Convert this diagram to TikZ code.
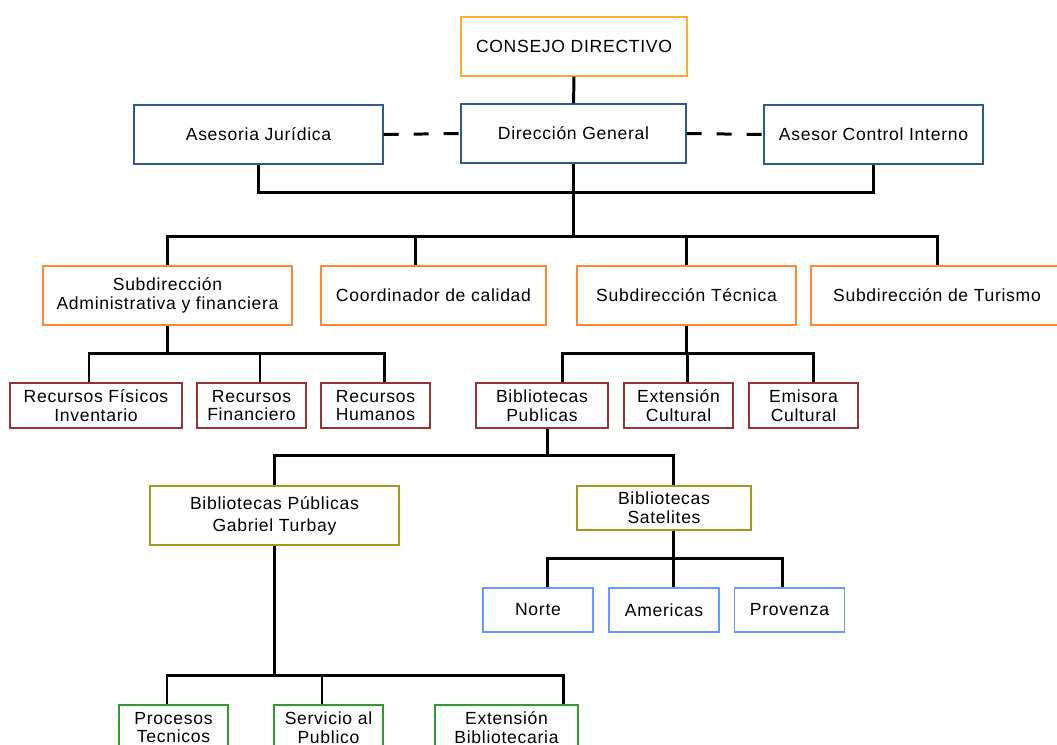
\documentclass[tikz,border=0pt]{standalone}
\usepackage{fontspec}
\setmainfont{Liberation Sans}[LetterSpace=4]
\usepackage{xcolor}
\usepackage{tikz}
\usetikzlibrary{positioning, calc}

\definecolor{consejo}{HTML}{FFAA33}
\definecolor{direccion}{HTML}{2E5C8A}
\definecolor{subdir}{HTML}{FF8833}
\definecolor{area}{HTML}{993333}
\definecolor{biblio}{HTML}{9E9A1E}
\definecolor{satelite}{HTML}{6699FF}
\definecolor{servicio}{HTML}{339933}

\begin{document}
\begin{tikzpicture}[
        x=0.02cm, y=-0.02cm,
        box/.style={draw, line width=0.8pt, fill=white, align=center, inner sep=0pt,
                    font=\fontsize{10}{10.6}\selectfont},
        top/.style={box, draw=consejo, minimum width=4.52cm, minimum height=1.18cm},
        dir/.style={box, draw=direccion, minimum height=1.18cm},
        sub/.style={box, draw=subdir, minimum height=1.18cm},
        area/.style={box, draw=area, minimum height=0.9cm},
        bib/.style={box, draw=biblio},
        sat/.style={box, draw=satelite, minimum width=2.2cm, minimum height=0.88cm},
        serv/.style={box, draw=servicio, minimum height=0.9cm},
        link/.style={line width=1.7pt},
        assist/.style={line width=1.7pt, dash pattern=on 0.3cm off 0.3cm}
    ]
    \useasboundingbox (0,0) rectangle (1057,744);
    \clip (0,0) rectangle (1057,744);

    % ==========================================
    % Nodes Placement
    % ==========================================
    \node[top] (CD) at (574, 46.5) {CONSEJO DIRECTIVO};
    \node[dir, minimum width=4.5cm] (DG) at (573.5, 133.5) {Dirección General};
    \node[dir, minimum width=4.98cm] (AJ) at (258.5, 134.5) {Asesoria Jurídica};
    \node[dir, minimum width=4.38cm] (ACI) at (873.5, 134.5) {Asesor Control Interno};

    \node[sub, minimum width=4.98cm] (SA) at (167.5, 295.5) {Subdirección\\Administrativa y financiera};
    \node[sub, minimum width=4.5cm] (CC) at (433.5, 295.5) {Coordinador de calidad};
    \node[sub, minimum width=4.38cm] (ST) at (686.5, 295.5) {Subdirección Técnica};
    \node[sub, minimum width=5.04cm] (TU) at (937, 295.5) {Subdirección de Turismo};

    \node[area, minimum width=3.44cm] (RF) at (96, 405.5) {Recursos Físicos\\Inventario};
    \node[area, minimum width=2.18cm] (RFi) at (251.5, 405.5) {Recursos\\Financiero};
    \node[area, minimum width=2.18cm] (RH) at (375.5, 405.5) {Recursos\\Humanos};
    \node[area, minimum width=2.64cm] (BP) at (542, 405.5) {Bibliotecas\\Publicas};
    \node[area, minimum width=2.18cm] (EC) at (678.5, 405.5) {Extensión\\Cultural};
    \node[area, minimum width=2.18cm] (EM) at (803.5, 405.5) {Emisora\\Cultural};

    \node[bib, minimum width=4.98cm, minimum height=1.18cm] (GT) at (274.5, 515.5) {Bibliotecas Públicas\\[2pt]Gabriel Turbay};
    \node[bib, minimum width=3.48cm, minimum height=0.88cm] (BS) at (664, 508) {Bibliotecas\\Satelites};

    \node[sat] (NO) at (538, 610) {Norte};
    \node[sat] (AM) at (664, 610) {Americas};
    \node[sat] (PR) at (789.5, 610) {Provenza};

    \node[serv, minimum width=2.18cm] (PT) at (173.5, 727.5) {Procesos\\Tecnicos};
    \node[serv, minimum width=2.18cm] (SP) at (328.5, 727.5) {Servicio al\\Publico};
    \node[serv, minimum width=2.86cm] (EB) at (506.5, 727.5) {Extensión\\Bibliotecaria};

    % ==========================================
    % Edges
    % ==========================================

    % Consejo and advisers
    \draw[link] (CD) -- (DG);
    \draw[assist] (AJ.east) -- (DG.west);
    \draw[assist] (DG.east) -- (ACI.west);
    \draw[link] (AJ.south) -- ++(0,28) -| (ACI.south);

    % Direccion General to the subdirecciones
    \draw[link] (DG.south) -- ++(0,73) coordinate (busDG);
    \draw[link] (busDG) -| (SA.north);
    \draw[link] (busDG) -| ($(CC.north)+(-18,0)$);
    \draw[link] (busDG) -| (ST.north);
    \draw[link] (busDG) -| (TU.north);

    % Subdireccion Administrativa
    \draw[link] (SA.south) -- ++(0,28) coordinate (busSA);
    \draw[link] (busSA) -| ($(RF.north)+(-7,0)$);
    \draw[link] (busSA) -| ($(RFi.north)+(8.5,0)$);
    \draw[link] (busSA) -| ($(RH.north)+(8.5,0)$);

    % Subdireccion Tecnica
    \draw[link] (ST.south) -- ++(0,28) coordinate (busST);
    \draw[link] (busST) -| ($(BP.north)+(20,0)$);
    \draw[link] (busST) -| ($(EC.north)+(8.5,0)$);
    \draw[link] (busST) -| ($(EM.north)+(9.5,0)$);

    % Bibliotecas Publicas
    \draw[link] ($(BP.south)+(5,0)$) -- ++(0,27) coordinate (busBP);
    \draw[link] (busBP) -| (GT.north);
    \draw[link] (busBP) -| ($(BS.north)+(9,0)$);

    % Bibliotecas Satelites
    \draw[link] ($(BS.south)+(9,0)$) -- ++(0,28) coordinate (busBS);
    \draw[link] (busBS) -| ($(NO.north)+(9,0)$);
    \draw[link] (busBS) -| ($(AM.north)+(9,0)$);
    \draw[link] (busBS) -| ($(PR.north)+(-7.5,0)$);

    % Gabriel Turbay
    \draw[link] (GT.south) -- ++(0,129.5) coordinate (busGT);
    \draw[link] (busGT) -| ($(PT.north)+(-6.5,0)$);
    \draw[link] (busGT) -| ($(SP.north)+(-6.5,0)$);
    \draw[link] (busGT) -| ($(EB.north)+(56.5,0)$);

\end{tikzpicture}
\end{document}
